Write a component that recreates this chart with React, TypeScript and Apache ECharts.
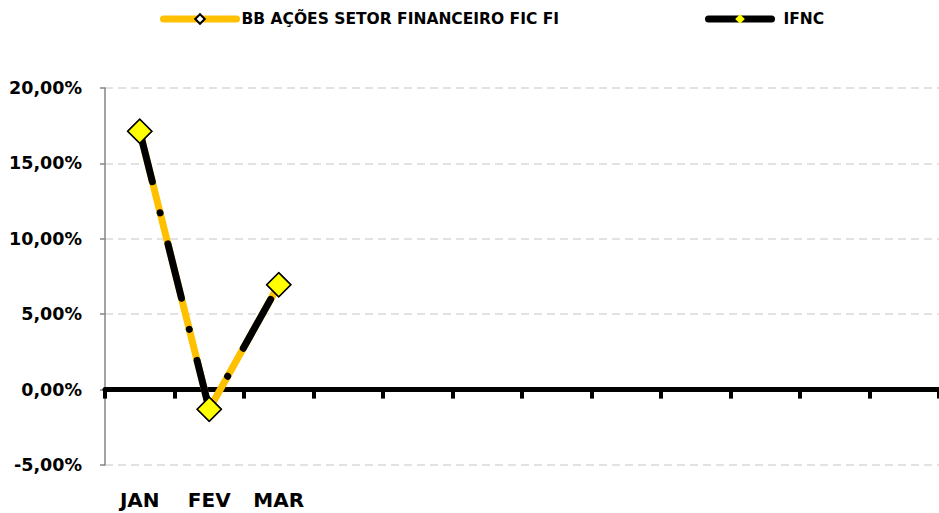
import React, { useEffect, useRef } from "react";
import * as echarts from "echarts";

const categories = ["JAN", "FEV", "MAR", "ABR", "MAI", "JUN", "JUL", "AGO", "SET", "OUT", "NOV", "DEZ"];
const categoryLabels = ["JAN", "FEV", "MAR", "", "", "", "", "", "", "", "", ""];
const fundName = "BB AÇÕES SETOR FINANCEIRO FIC FI";
const benchName = "IFNC";
const fundValues: (number | null)[] = [17.13, -1.3, 6.95, null, null, null, null, null, null, null, null, null];
const benchValues: (number | null)[] = [17.13, -1.3, 6.95, null, null, null, null, null, null, null, null, null];

const FONT = "DejaVu Sans";

export default function App() {
  const ref = useRef<HTMLDivElement>(null);
  useEffect(() => {
    document.body.style.margin = "0";
    const chart = echarts.init(ref.current!, undefined, { renderer: "svg" });
    chart.setOption({
      animation: false,
      backgroundColor: "#ffffff",
      legend: [
        {
          data: [fundName],
          left: 160,
          top: 11,
          itemWidth: 73,
          itemHeight: 12,
          padding: 0,
          textStyle: { fontFamily: FONT, fontWeight: "bold", fontSize: 15.5, color: "#000" },
          itemStyle: { color: "#ffffff", borderColor: "#000", borderWidth: 2 },
          lineStyle: { type: "solid", width: 7, cap: "round", color: "#FFC000" },
        },
        {
          data: [benchName],
          left: 705,
          top: 11,
          itemWidth: 63,
          itemHeight: 12,
          padding: 0,
          textStyle: { fontFamily: FONT, fontWeight: "bold", fontSize: 15.5, color: "#000", padding: [0, 0, 0, 7] },
          itemStyle: { color: "#FFFF00", borderWidth: 0 },
          lineStyle: { type: "solid", width: 7, cap: "round", color: "#000" },
        },
      ],
      grid: { left: 105, top: 88, width: 836, bottom: 48, containLabel: false },
      xAxis: [
        {
          type: "category",
          data: categories,
          position: "bottom",
          boundaryGap: true,
          axisLine: { onZero: true, lineStyle: { color: "#000", width: 5 } },
          axisTick: { show: true, length: 9, lineStyle: { color: "#000", width: 4 } },
          axisLabel: { show: false },
          splitLine: { show: false },
          z: 3,
        },
        {
          type: "category",
          data: categoryLabels,
          position: "bottom",
          boundaryGap: true,
          axisLine: { show: false, onZero: false },
          axisTick: { show: false },
          axisLabel: { show: true, margin: 25, fontFamily: FONT, fontWeight: "bold", fontSize: 20, color: "#000", interval: 0 },
          splitLine: { show: false },
        },
      ],
      yAxis: {
        type: "value",
        min: -5,
        max: 20,
        interval: 5,
        axisLine: { show: true, lineStyle: { color: "#868686", width: 1.5 } },
        axisTick: { show: true, length: 5, lineStyle: { color: "#868686", width: 1.5 } },
        axisLabel: {
          margin: 23,
          fontFamily: FONT,
          fontWeight: "bold",
          fontSize: 17.5,
          color: "#000",
          formatter: (v: number) => v.toFixed(2).replace(".", ",") + "%",
        },
        splitLine: { show: true, lineStyle: { color: "#D9D9D9", width: 1.5, type: [8, 5] } },
      },
      series: [
        {
          name: fundName,
          type: "line",
          xAxisIndex: 0,
          data: fundValues,
          symbol: "diamond",
          symbolSize: 24,
          showSymbol: true,
          itemStyle: { color: "#FFFF00", borderColor: "#000", borderWidth: 1.5 },
          lineStyle: { color: "#FFC000", width: 7, cap: "round" },
          z: 4,
        },
        {
          name: benchName,
          type: "line",
          xAxisIndex: 0,
          data: benchValues,
          symbol: "diamond",
          symbolSize: 24,
          showSymbol: true,
          itemStyle: { color: "#FFFF00", borderColor: "#000", borderWidth: 1.5 },
          lineStyle: { color: "#000", width: 7, cap: "round", type: [56, 32, 0.1, 32], dashOffset: 4 },
          z: 5,
        },
      ],
    });
    return () => chart.dispose();
  }, []);
  return <div ref={ref} style={{ width: 939, height: 513 }} />;
}
